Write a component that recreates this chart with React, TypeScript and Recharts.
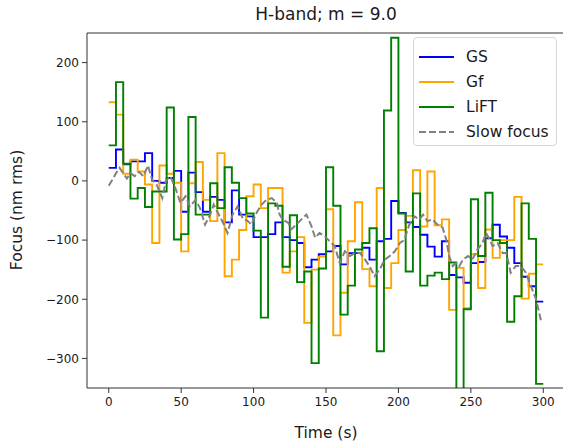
import {
  LineChart,
  Line,
  XAxis,
  YAxis,
  ReferenceLine,
} from 'recharts';

// step start times (s)
const times = [
  0, 5, 10, 15, 20, 25, 30, 35, 40, 45, 50, 55, 60, 65, 70, 75, 80, 85, 90, 95,
  100, 105, 110, 115, 120, 125, 130, 135, 140, 145, 150, 155, 160, 165, 170, 175, 180, 185, 190, 195,
  200, 205, 210, 215, 220, 225, 230, 235, 240, 245, 250, 255, 260, 265, 270, 275, 280, 285, 290, 295,
];
const endTime = 300;

const gsValues = [
  22, 53, 28, 33, 33, 47, 0, -3, 5, 17, -52, 14, -19, -52, -27, -32, -70, -16, -57, -60,
  -95, -95, -90, -70, -95, -100, -105, -146, -133, -124, -119, -110, -141, -122, -122, -113, -133, -102, -98, -34,
  -54, -70, -78, -91, -111, -128, -102, -159, -163, -172, -139, -137, -97, -74, -94, -113, -139, -162, -178, -204,
];

const gfValues = [
  133, 112, 12, 36, 16, -6, -105, 26, 12, -3, -119, -4, 32, -32, -68, 47, -161, -133, -83, -26,
  -6, -46, -12, -12, -155, -119, -95, -240, -150, -128, -48, -261, -189, -102, -36, -149, -178, -12, -181, -139,
  -83, -59, 18, -77, 16, -75, -65, -218, -147, -215, -124, -181, -82, -130, -100, -100, -27, -199, -157, -141,
];

const liftValues = [
  60, 167, 29, -30, -12, -44, -18, -18, 124, -99, -90, 108, -57, -57, -4, -46, 23, -3, -29, -55,
  -84, -231, -38, -42, -145, -58, -171, -153, -308, -148, 23, -42, -226, -177, -116, -105, -80, -288, 119, 242,
  -55, -153, -21, -177, -160, -155, -166, -138, -420, -217, -31, -127, -20, -100, -105, -238, -195, -38, -98, -343,
];

const slowTimes = [
  0, 2.5, 5, 7.5, 10, 12.5, 15, 18, 21, 24, 27, 30, 33, 37, 39.5, 42.5, 46, 49.5, 53, 56,
  60, 63, 66.5, 70, 72.5, 76, 79, 82, 85.5, 89, 92.5, 96, 98.5, 102, 105.5, 109, 112.5, 116, 118, 120,
  124, 126, 129.5, 133, 136.5, 140, 142.5, 145.5, 149, 152.5, 156, 159.5, 163, 166.5, 170, 173.5, 177, 180, 183.5, 187,
  190.5, 194, 197.5, 201, 204, 207.5, 211, 214.5, 217, 220, 223.5, 227, 230.5, 233, 235, 237.5, 240, 242, 244.5, 248,
  251, 254.5, 258, 260.5, 263, 265, 268.5, 272, 274.5, 277.5, 281, 284.5, 288, 291.5, 295, 298.5,
];
const slowValues = [
  -8, 2, 13, 22, 13, 4, 13, 8, 15, 8, 26, 2, -6, -29, 0, 8, -12, -37, -26, -43,
  -32, -46, -74, -57, -40, -57, -71, -88, -57, -43, -63, -68, -74, -54, -40, -32, -29, -37, -57, -65,
  -71, -82, -74, -65, -57, -77, -96, -88, -93, -102, -110, -139, -119, -127, -122, -122, -133, -144, -161, -150,
  -133, -127, -119, -105, -100, -74, -60, -65, -57, -68, -65, -74, -79, -99, -127, -144, -139, -144, -133, -127,
  -133, -116, -105, -88, -99, -110, -105, -122, -122, -155, -144, -144, -155, -178, -200, -237,
];

const xTicks = [0, 50, 100, 150, 200, 250, 300];
const yTicks = [-300, -200, -100, 0, 100, 200];

const SERIES = [
  { name: 'GS', color: '#0000ff', values: gsValues },
  { name: 'Gf', color: '#ffa500', values: gfValues },
  { name: 'LiFT', color: '#008000', values: liftValues },
];

// post-step data: hold the last value until the end time
const toSteps = (values: number[]) => [
  ...times.map((t, i) => ({ t, v: values[i] })),
  { t: endTime, v: values[values.length - 1] },
];

const slowData = slowTimes.map((t, i) => ({ t, v: slowValues[i] }));

const FONT = '"DejaVu Sans", sans-serif';
const AXIS = '#333333';
const fmt = (v: number) => String(v).replace('-', '\u2212');

const LegendBox = () => (
  <div
    style={{
      position: 'absolute',
      left: 413,
      top: 37,
      width: 144,
      height: 109,
      border: '1px solid #d6d6d6',
      borderRadius: 4,
      background: 'rgba(255,255,255,0.85)',
      fontFamily: FONT,
      fontSize: 15.5,
      color: '#1a1a1a',
      boxSizing: 'border-box',
    }}
  >
    {[...SERIES.map((s) => ({ name: s.name, color: s.color, dash: false })),
      { name: 'Slow focus', color: '#808080', dash: true }].map((item, i) => (
      <div
        key={item.name}
        style={{ position: 'absolute', left: 0, top: 9 + i * 25, height: 20, display: 'flex', alignItems: 'center' }}
      >
        <svg width={50} height={20} style={{ marginLeft: 4 }}>
          <line
            x1={1}
            x2={36}
            y1={10}
            y2={10}
            stroke={item.color}
            strokeWidth={1.9}
            strokeDasharray={item.dash ? '7 3' : undefined}
          />
        </svg>
        <span style={{ marginLeft: -2 }}>{item.name}</span>
      </div>
    ))}
  </div>
);

export default function App() {
  return (
    <div
      style={{
        position: 'absolute',
        left: 0,
        top: 0,
        width: 563,
        height: 445,
        overflow: 'hidden',
        background: '#fff',
      }}
    >
      <div
        style={{
          position: 'absolute',
          left: 87,
          width: 478,
          top: 4,
          textAlign: 'center',
          fontFamily: FONT,
          fontSize: 17,
          color: '#1a1a1a',
        }}
      >
        H-band; m = 9.0
      </div>
      <LineChart
        width={575}
        height={445}
        margin={{ top: 33, right: 10, bottom: 27, left: 27 }}
        style={{ position: 'absolute', left: 0, top: 0 }}
      >
        <XAxis
          dataKey="t"
          type="number"
          domain={[-15, 315]}
          ticks={xTicks}
          allowDataOverflow
          height={30}
          tickSize={5}
          tickMargin={4}
          stroke={AXIS}
          tick={{ fill: '#1a1a1a', fontSize: 12, fontFamily: FONT }}
          tickFormatter={fmt}
        />
        <YAxis
          type="number"
          domain={[-350, 250]}
          ticks={yTicks}
          allowDataOverflow
          width={60}
          tickSize={5}
          tickMargin={3}
          stroke={AXIS}
          tick={{ fill: '#1a1a1a', fontSize: 12, fontFamily: FONT }}
          tickFormatter={fmt}
        />
        <ReferenceLine y={250} stroke={AXIS} strokeWidth={1} />
        {SERIES.map((s) => (
          <Line
            key={s.name}
            data={toSteps(s.values)}
            dataKey="v"
            name={s.name}
            type="stepAfter"
            stroke={s.color}
            strokeWidth={1.9}
            dot={false}
            isAnimationActive={false}
          />
        ))}
        <Line
          data={slowData}
          dataKey="v"
          name="Slow focus"
          type="linear"
          stroke="#808080"
          strokeWidth={2}
          strokeDasharray="7 3"
          dot={false}
          isAnimationActive={false}
        />
      </LineChart>
      <LegendBox />
      <div
        style={{
          position: 'absolute',
          left: 87,
          width: 478,
          top: 424,
          textAlign: 'center',
          fontFamily: FONT,
          fontSize: 15.5,
          color: '#1a1a1a',
        }}
      >
        Time (s)
      </div>
      <div
        style={{
          position: 'absolute',
          left: 17,
          top: 210,
          transform: 'translate(-50%, -50%) rotate(-90deg)',
          whiteSpace: 'nowrap',
          fontFamily: FONT,
          fontSize: 15.5,
          color: '#1a1a1a',
        }}
      >
        Focus (nm rms)
      </div>
    </div>
  );
}
